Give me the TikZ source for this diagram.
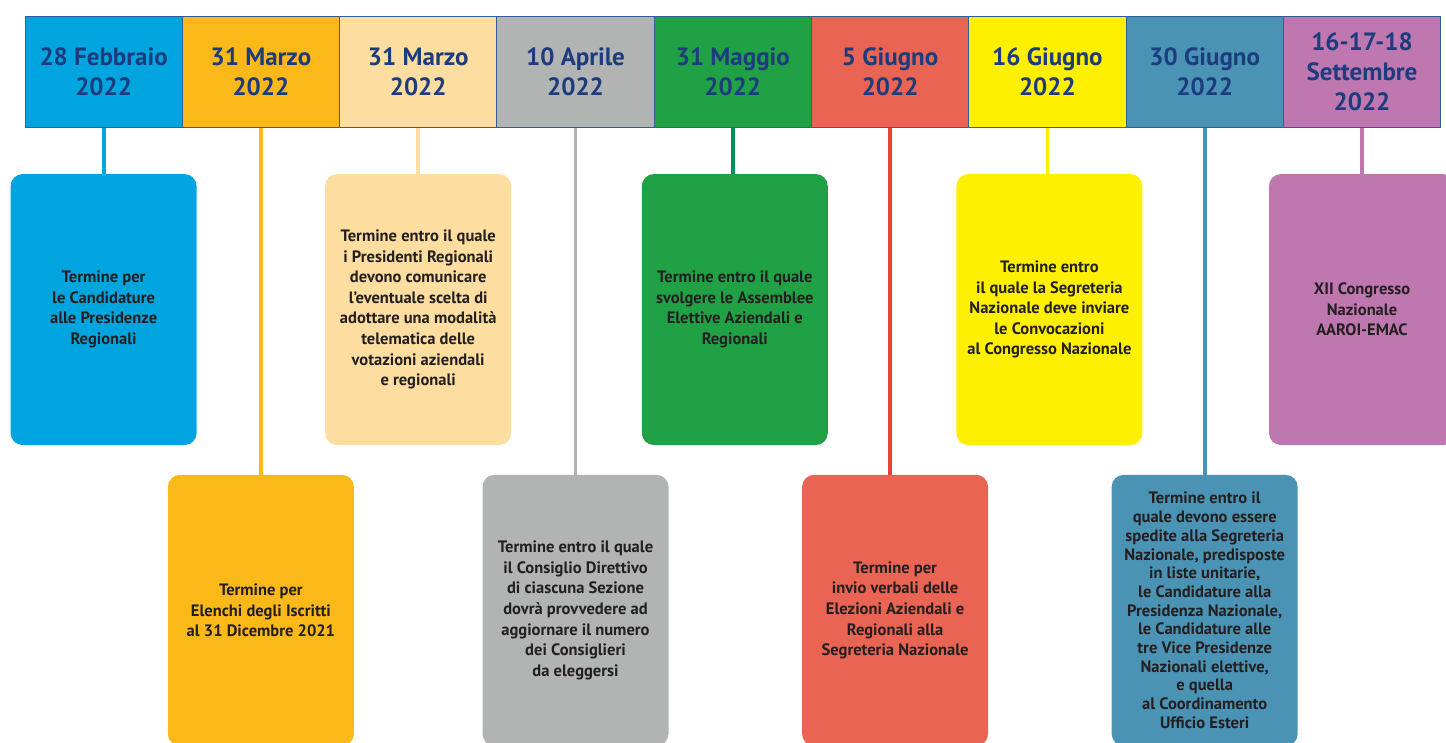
\documentclass[tikz,border=0pt]{standalone}
\usepackage{fontspec}
\setmainfont{PT Sans}
\usetikzlibrary{positioning}

\definecolor{cellrule}{HTML}{2F5E96}
\definecolor{datetext}{HTML}{1C3C7E}
\definecolor{notetext}{HTML}{231F20}
\definecolor{febcol}{HTML}{00A5E0}
\definecolor{marcol}{HTML}{FBB919}
\definecolor{marlight}{HTML}{FDDDA0}
\definecolor{aprcol}{HTML}{B2B3B3}
\definecolor{magcol}{HTML}{21A146}
\definecolor{magline}{HTML}{00915A}
\definecolor{giucol}{HTML}{E96453}
\definecolor{giuline}{HTML}{E8413C}
\definecolor{yelcol}{HTML}{FFF000}
\definecolor{steelcol}{HTML}{4A93B4}
\definecolor{setcol}{HTML}{BF77B0}

\begin{document}
\begin{tikzpicture}[x=1pt,y=-1pt,
         datecell/.style = {draw=cellrule, line width=0.8pt, outer sep=0pt,
         minimum width=157.3pt, minimum height=111.5pt, inner sep=2pt,
         align=center, text=datetext, font=\bfseries\fontsize{25}{30}\selectfont},
         notebox/.style = {rounded corners=12pt, outer sep=0pt,
         minimum width=186pt, minimum height=271pt, inner sep=2pt,
         align=center, text=notetext, font=\bfseries\fontsize{16.5}{20.6}\selectfont},
         link/.style = {line width=3.8pt}
]
      \useasboundingbox (0,0) rectangle (1446,742);
      \clip (0,0) rectangle (1446,742);

      % date band
      \node[datecell, fill=febcol]                  (d1) at (103.6,71.8) {28 Febbraio\\2022};
      \node[datecell, fill=marcol,   right=0pt of d1] (d2) {31 Marzo\\2022};
      \node[datecell, fill=marlight, right=0pt of d2] (d3) {31 Marzo\\2022};
      \node[datecell, fill=aprcol,   right=0pt of d3] (d4) {10 Aprile\\2022};
      \node[datecell, fill=magcol,   right=0pt of d4] (d5) {31 Maggio\\2022};
      \node[datecell, fill=giucol,   right=0pt of d5] (d6) {5 Giugno\\2022};
      \node[datecell, fill=yelcol,   right=0pt of d6] (d7) {16 Giugno\\2022};
      \node[datecell, fill=steelcol, right=0pt of d7] (d8) {30 Giugno\\2022};
      \node[datecell, fill=setcol,   right=0pt of d8] (d9) {16-17-18\\Settembre\\2022};

      % upper row
      \node[notebox, fill=febcol,   below=46.5pt of d1] (n1)
         {Termine per\\le Candidature\\alle Presidenze\\Regionali};
      \node[notebox, fill=marlight, below=46.5pt of d3] (n3)
         {Termine entro il quale\\i Presidenti Regionali\\devono comunicare\\l’eventuale scelta di\\adottare una modalità\\telematica delle\\votazioni aziendali\\e regionali};
      \node[notebox, fill=magcol,   below=46.5pt of d5, xshift=2pt] (n5)
         {Termine entro il quale\\svolgere le Assemblee\\Elettive Aziendali e\\Regionali};
      \node[notebox, fill=yelcol,   below=46.5pt of d7, xshift=2pt] (n7)
         {Termine entro\\il quale la Segreteria\\Nazionale deve inviare\\le Convocazioni\\al Congresso Nazionale};
      \node[notebox, fill=setcol,   below=46.5pt of d9] (n9)
         {XII Congresso\\Nazionale\\AAROI-EMAC};

      % lower row
      \node[notebox, fill=marcol,   below=347.3pt of d2] (n2)
         {Termine per\\Elenchi degli Iscritti\\al 31 Dicembre 2021};
      \node[notebox, fill=aprcol,   below=347.3pt of d4] (n4)
         {Termine entro il quale\\il Consiglio Direttivo\\di ciascuna Sezione\\dovrà provvedere ad\\aggiornare il numero\\dei Consiglieri\\da eleggersi};
      \node[notebox, fill=giucol,   below=347.3pt of d6, xshift=5pt] (n6)
         {Termine per\\invio verbali delle\\Elezioni Aziendali e\\Regionali alla\\Segreteria Nazionale};
      \node[notebox, fill=steelcol, below=347.3pt of d8,
            font=\bfseries\fontsize{16.5}{18.7}\selectfont] (n8)
         {Termine entro il\\quale devono essere\\spedite alla Segreteria\\Nazionale, predisposte\\in liste unitarie,\\le Candidature alla\\Presidenza Nazionale,\\le Candidature alle\\tre Vice Presidenze\\Nazionali elettive,\\e quella\\al Coordinamento\\Ufficio Esteri};

      % links
      \draw[link, febcol]   (d1.south) -- (n1.north);
      \draw[link, marcol]   (d2.south) -- (n2.north);
      \draw[link, marlight] (d3.south) -- (n3.north);
      \draw[link, aprcol]   (d4.south) -- (n4.north);
      \draw[link, magline]  (d5.south) -- (n5.north -| d5.south);
      \draw[link, giuline]  (d6.south) -- (n6.north -| d6.south);
      \draw[link, yelcol]   (d7.south) -- (n7.north -| d7.south);
      \draw[link, steelcol] (d8.south) -- (n8.north);
      \draw[link, setcol]   (d9.south) -- (n9.north);

\end{tikzpicture}
\end{document}
